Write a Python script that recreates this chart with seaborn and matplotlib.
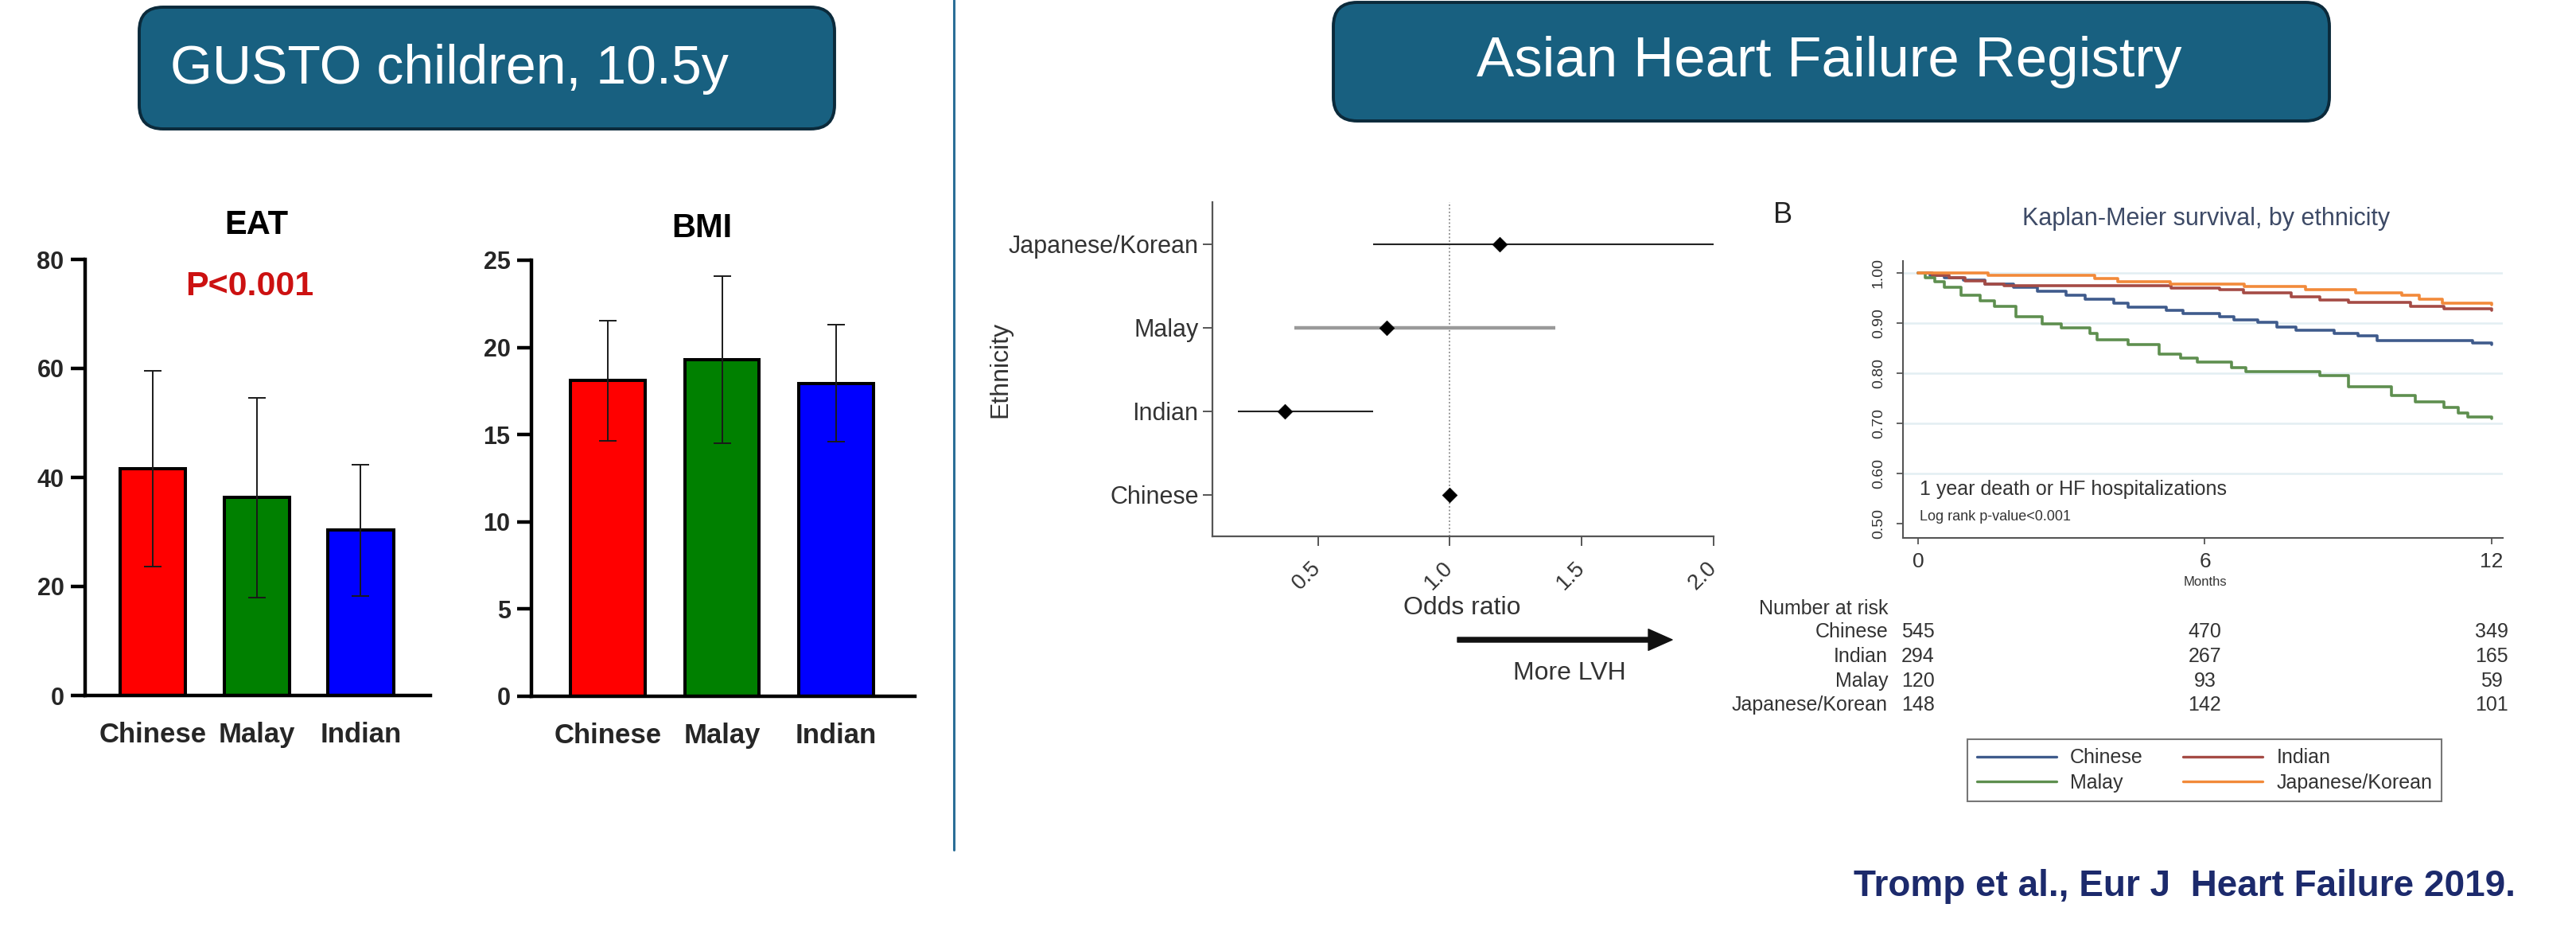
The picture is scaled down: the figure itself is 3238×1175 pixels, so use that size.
import numpy as np
import pandas as pd
import matplotlib
matplotlib.use("Agg")
import matplotlib.pyplot as plt
import seaborn as sns
from matplotlib.patches import FancyBboxPatch, FancyArrowPatch
from matplotlib.lines import Line2D
from matplotlib.transforms import IdentityTransform, blended_transform_factory

W, H, DPI = 3238, 1175, 100

# ---- GUSTO children, 10.5y: mean ± SD by ethnicity ----
gusto_groups = ["Chinese", "Malay", "Indian"]
gusto_colors = ["#ff0000", "#008000", "#0000ff"]
eat_mean = [41.6, 36.3, 30.3]
eat_sd = [18.0, 18.3, 12.0]
bmi_mean = [18.1, 19.3, 17.95]
bmi_sd = [3.45, 4.8, 3.35]
eat_ticks = [0, 20, 40, 60, 80]
bmi_ticks = [0, 5, 10, 15, 20, 25]

# ---- Odds ratio of LVH by ethnicity (Chinese = reference) ----
forest_groups = ["Chinese", "Indian", "Malay", "Japanese/Korean"]
forest_or = [1.0, 0.375, 0.76, 1.19]
forest_lo = [np.nan, 0.195, 0.41, 0.71]
forest_hi = [np.nan, 0.71, 1.40, 2.0]
forest_ci_colors = ["#222222", "#222222", "#9a9a9a", "#222222"]
forest_ci_widths = [1.5, 1.5, 3.2, 1.5]
or_ticks = [0.5, 1.0, 1.5, 2.0]
or_labels = ["0.5", "1.0", "1.5", "2.0"]

# ---- Kaplan-Meier survival, by ethnicity (months, survival) ----
km_groups = ["Chinese", "Indian", "Malay", "Japanese/Korean"]
km_colors = ["#3f5b8c", "#a54b45", "#5e8f4f", "#f28a3a"]
km_t_chinese = [0, 0.25, 0.55, 0.95, 1.4, 2.0, 2.5, 3.1, 3.5, 4.1, 4.4, 5.2, 5.55,
                6.3, 6.6, 7.1, 7.5, 7.9, 8.7, 9.2, 9.6, 11.6, 12.0]
km_s_chinese = [1.0, 0.995, 0.99, 0.985, 0.978, 0.972, 0.964, 0.956, 0.948, 0.94, 0.932,
                0.926, 0.919, 0.912, 0.906, 0.901, 0.892, 0.886, 0.880, 0.874, 0.865,
                0.860, 0.857]
km_t_indian = [0, 0.3, 0.65, 0.98, 1.4, 1.8, 5.3, 6.3, 6.8, 7.8, 8.4, 9.0, 10.3, 11.0, 12.0]
km_s_indian = [1.0, 0.995, 0.99, 0.984, 0.977, 0.974, 0.970, 0.966, 0.961, 0.952, 0.946,
               0.941, 0.934, 0.928, 0.925]
km_t_malay = [0, 0.15, 0.35, 0.55, 0.9, 1.3, 1.6, 2.05, 2.6, 3.0, 3.6, 3.75, 4.4, 5.05,
              5.5, 5.85, 6.55, 6.85, 8.4, 9.0, 9.9, 10.4, 11.0, 11.3, 11.5, 12.0]
km_s_malay = [1.0, 0.99, 0.982, 0.972, 0.956, 0.945, 0.934, 0.912, 0.898, 0.89, 0.879,
              0.866, 0.857, 0.838, 0.83, 0.822, 0.811, 0.803, 0.796, 0.773, 0.756, 0.743,
              0.732, 0.721, 0.713, 0.71]
km_t_japkor = [0, 1.46, 3.69, 4.17, 5.28, 6.82, 8.10, 9.16, 10.12, 10.49, 10.97, 12.0]
km_s_japkor = [1.0, 0.995, 0.989, 0.983, 0.977, 0.973, 0.966, 0.961, 0.955, 0.947,
               0.939, 0.936]
km_yticks = [0.5, 0.6, 0.7, 0.8, 0.9, 1.0]
km_xticks = [0, 6, 12]

# ---- Number at risk ----
risk_times = [0, 6, 12]
risk_chinese = [545, 470, 349]
risk_indian = [294, 267, 165]
risk_malay = [120, 93, 59]
risk_japkor = [148, 142, 101]

sns.set_style("ticks")
plt.rcParams["font.family"] = ["Liberation Sans", "DejaVu Sans"]

fig = plt.figure(figsize=(W / DPI, H / DPI), dpi=DPI, facecolor="white")


def px_axes(x0, y0, x1, y1):
    return fig.add_axes([x0 / W, 1 - y1 / H, (x1 - x0) / W, (y1 - y0) / H])


def fig_text(x, y, s, **kw):
    kw.setdefault("ha", "center")
    kw.setdefault("va", "center")
    return fig.text(x / W, 1 - y / H, s, **kw)


def title_box(x0, y0, x1, y1):
    box = FancyBboxPatch((x0, H - y1), x1 - x0, y1 - y0,
                         boxstyle="round,pad=0,rounding_size=30",
                         transform=IdentityTransform(),
                         facecolor="#186080", edgecolor="#0b2a3b", linewidth=2.8)
    fig.add_artist(box)


# ---- header boxes and divider ----
title_box(175, 9, 1049, 162)
fig_text(214, 87, "GUSTO children, 10.5y", ha="left", fontsize=49, color="white")
title_box(1676, 3, 2928, 152)
fig_text(2299, 78, "Asian Heart Failure Registry", fontsize=51, color="white")
fig.add_artist(Line2D([1199 / W, 1199 / W], [1, 1 - 1068 / H], transform=fig.transFigure,
                      color="#2b6e97", linewidth=2.2))


# ---- bar panels ----
def bar_panel(rect, means, sds, ticks, xlim, width):
    ax = px_axes(*rect)
    df = pd.DataFrame({"group": gusto_groups, "value": means})
    sns.barplot(data=df, x="group", y="value", hue="group", palette=gusto_colors,
                saturation=1, width=width, edgecolor="black", linewidth=2.9,
                errorbar=None, legend=False, ax=ax, zorder=2)
    ax.errorbar(np.arange(len(means)), means, yerr=sds, fmt="none", ecolor="#1a1a1a",
                elinewidth=1.4, capsize=8, capthick=1.4, zorder=5)
    ax.set_xlim(*xlim)
    ax.set_ylim(ticks[0], ticks[-1])
    ax.set_yticks(ticks)
    ax.set_yticklabels([str(t) for t in ticks], fontsize=22, fontweight="bold")
    ax.set_xlabel("")
    ax.set_ylabel("")
    sns.despine(ax=ax)
    for side in ("left", "bottom"):
        ax.spines[side].set_linewidth(3.2)
        ax.spines[side].set_color("black")
    ax.tick_params(axis="y", left=True, direction="out", length=13, width=3.2,
                   color="black", pad=6)
    ax.tick_params(axis="x", bottom=False, length=0, pad=24, labelsize=25)
    for lbl in ax.get_xticklabels():
        lbl.set_fontweight("bold")
    ax.set_facecolor("none")
    return ax


bar_panel((107, 326, 541, 874), eat_mean, eat_sd, eat_ticks, (-0.65, 2.67), 0.63)
fig_text(322, 283, "EAT", fontsize=30, fontweight="bold", color="black")
fig_text(314, 360, "P<0.001", fontsize=31, fontweight="bold", color="#cc1111")

bar_panel((668, 327, 1150, 875), bmi_mean, bmi_sd, bmi_ticks, (-0.67, 2.69), 0.65)
fig_text(882, 287, "BMI", fontsize=30, fontweight="bold", color="black")

# ---- forest plot ----
ax_f = px_axes(1524, 254, 2154, 674)
ypos = np.arange(1, len(forest_groups) + 1)
ax_f.axvline(1.0, color="#8a8a8a", ls=(0, (1, 1.5)), lw=1.3, zorder=1)
for y, lo, hi, c, lw in zip(ypos, forest_lo, forest_hi, forest_ci_colors, forest_ci_widths):
    if not np.isnan(lo):
        ax_f.hlines(y, lo, hi, color=c, lw=lw, zorder=2)
sns.scatterplot(x=forest_or, y=ypos, marker="D", color="black", s=90,
                edgecolor="black", linewidth=0.5, zorder=4, legend=False, ax=ax_f)
ax_f.set_xlim(0.1, 2.0)
ax_f.set_ylim(0.5, 4.5)
ax_f.set_yticks(ypos)
ax_f.set_yticklabels(forest_groups, fontsize=22, color="#333333")
ax_f.set_xticks(or_ticks)
ax_f.set_xticklabels(or_labels, rotation=45, ha="right", va="center",
                     rotation_mode="anchor", fontsize=20, color="#333333")
sns.despine(ax=ax_f)
for side in ("left", "bottom"):
    ax_f.spines[side].set_linewidth(1.6)
    ax_f.spines[side].set_color("#555555")
ax_f.tick_params(axis="y", left=True, length=8.6, width=1.4, color="#555555", pad=4)
ax_f.tick_params(axis="x", bottom=True, length=8.6, width=1.4, color="#555555", pad=17)
ax_f.set_facecolor("none")

fig_text(1257, 464, "Ethnicity", rotation=90, fontsize=23, color="#333333")
fig_text(1838, 764, "Odds ratio", fontsize=23, color="#333333")
arrow = FancyArrowPatch((1832 / W, 1 - 804 / H), (2102 / W, 1 - 804 / H),
                        transform=fig.transFigure,
                        arrowstyle="simple,head_length=1.8,head_width=1.6,tail_width=0.36",
                        mutation_scale=12, color="#111111", shrinkA=0, shrinkB=0)
fig.add_artist(arrow)
fig_text(1973, 846, "More LVH", fontsize=23, color="#333333")

# ---- Kaplan-Meier panel ----
ax_k = px_axes(2392, 328, 3146, 676)
km_frames = []
for g, t, s in zip(km_groups,
                   [km_t_chinese, km_t_indian, km_t_malay, km_t_japkor],
                   [km_s_chinese, km_s_indian, km_s_malay, km_s_japkor]):
    km_frames.append(pd.DataFrame({"Months": t, "Survival": s, "Ethnicity": g}))
km_df = pd.concat(km_frames, ignore_index=True)

for v in km_yticks[1:]:
    ax_k.axhline(v, color="#e2eef2", lw=1.8, zorder=0)
sns.lineplot(data=km_df, x="Months", y="Survival", hue="Ethnicity", hue_order=km_groups,
             palette=dict(zip(km_groups, km_colors)), estimator=None, sort=False,
             drawstyle="steps-post", linewidth=2.6, legend=False, ax=ax_k)
ax_k.set_xlim(-0.316, 12.233)
ax_k.set_ylim(0.4714, 1.0238)
ax_k.set_xlabel("")
ax_k.set_ylabel("")
ax_k.set_yticks(km_yticks)
ax_k.set_yticklabels([f"{v:.2f}" for v in km_yticks], rotation=90, va="center",
                     fontsize=14, color="#333333")
ax_k.set_xticks(km_xticks)
ax_k.set_xticklabels([str(v) for v in km_xticks], fontsize=19, color="#333333")
sns.despine(ax=ax_k)
for side in ("left", "bottom"):
    ax_k.spines[side].set_linewidth(1.5)
    ax_k.spines[side].set_color("#555555")
ax_k.tick_params(axis="y", left=True, length=6, width=1.3, color="#555555", pad=10)
ax_k.tick_params(axis="x", bottom=True, length=6, width=1.3, color="#555555", pad=7)
ax_k.set_facecolor("none")

fig_text(2241, 271, "B", fontsize=26, color="#222222")
fig_text(2773, 275, "Kaplan-Meier survival, by ethnicity", fontsize=22, color="#3d4a66")
fig_text(2413, 615, "1 year death or HF hospitalizations", ha="left", fontsize=18,
         color="#333333")
fig_text(2413, 649, "Log rank p-value<0.001", ha="left", fontsize=13, color="#333333")
fig_text(2772, 731, "Months", fontsize=12, color="#333333")

# number-at-risk table, numbers aligned with the months axis
fig_text(2373, 765, "Number at risk", ha="right", fontsize=18, color="#333333")
risk_trans = blended_transform_factory(ax_k.transData, fig.transFigure)
for row_y, g, counts in zip([794, 825, 856, 886], km_groups,
                            [risk_chinese, risk_indian, risk_malay, risk_japkor]):
    fig_text(2373, row_y, g, ha="right", fontsize=18, color="#333333")
    for t, n in zip(risk_times, counts):
        ax_k.text(t, 1 - row_y / H, str(n), transform=risk_trans, ha="center",
                  va="center", fontsize=18, color="#333333", clip_on=False)

handles = [Line2D([], [], color=c, lw=2.4) for c in km_colors]
order = [0, 2, 1, 3]
leg = ax_k.legend([handles[i] for i in order], [km_groups[i] for i in order], ncol=2,
                  loc="center", bbox_to_anchor=(2771 / W, 1 - 968 / H),
                  bbox_transform=fig.transFigure, fontsize=18, frameon=True,
                  fancybox=False, edgecolor="#555555", handlelength=4.0,
                  handletextpad=0.7, columnspacing=2.0, borderpad=0.45,
                  labelspacing=0.3, borderaxespad=0)
leg.get_frame().set_linewidth(1.5)
for t in leg.get_texts():
    t.set_color("#333333")

fig_text(2330, 1114, "Tromp et al., Eur J  Heart Failure 2019.", ha="left", fontsize=33,
         fontweight="bold", color="#1c2a6c")

fig.savefig("out.png", dpi=DPI, facecolor="white")
